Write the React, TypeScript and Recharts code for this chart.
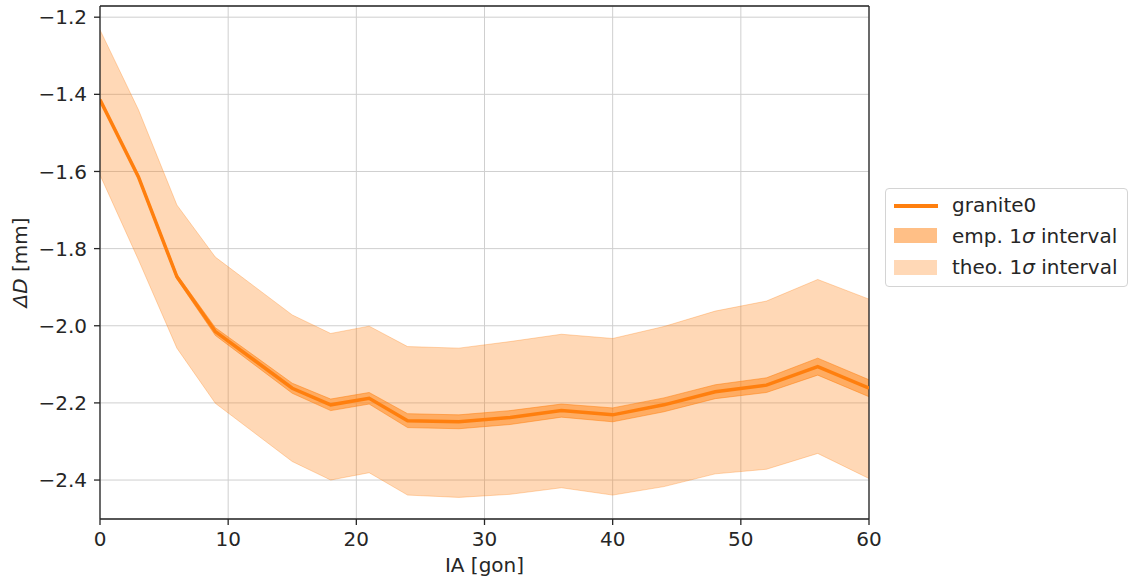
import {
  ComposedChart, Area, Line, XAxis, YAxis, CartesianGrid, ReferenceLine,
} from 'recharts'

// incidence angle [gon]
const ia = [0, 3, 6, 9, 15, 18, 21, 24, 28, 32, 36, 40, 44, 48, 52, 56, 60]

// granite0 mean ΔD [mm]
const mean = [-1.414, -1.614, -1.873, -2.015, -2.162, -2.205, -2.188, -2.246, -2.249, -2.238, -2.220, -2.231, -2.205, -2.171, -2.154, -2.106, -2.162]

// empirical 1σ band
const empHigh = [-1.410, -1.609, -1.867, -2.005, -2.149, -2.190, -2.173, -2.228, -2.231, -2.220, -2.203, -2.213, -2.187, -2.153, -2.135, -2.084, -2.140]
const empLow = [-1.418, -1.619, -1.879, -2.025, -2.175, -2.220, -2.203, -2.264, -2.267, -2.256, -2.237, -2.249, -2.223, -2.189, -2.173, -2.128, -2.184]

// theoretical 1σ band
const theoHigh = [-1.233, -1.440, -1.687, -1.822, -1.972, -2.020, -2.001, -2.054, -2.058, -2.041, -2.022, -2.033, -2.002, -1.962, -1.936, -1.880, -1.931]
const theoLow = [-1.609, -1.829, -2.058, -2.201, -2.352, -2.400, -2.381, -2.439, -2.445, -2.437, -2.420, -2.439, -2.417, -2.384, -2.372, -2.331, -2.396]

const xTicks = [0, 10, 20, 30, 40, 50, 60]
const yTicks = [-2.4, -2.2, -2.0, -1.8, -1.6, -1.4, -1.2]

const ORANGE = '#ff7f0e'
const FONT = '"DejaVu Sans", sans-serif'
const Y_MIN = -2.501
const Y_MAX = -1.171

const data = ia.map((x, i) => ({
  ia: x,
  mean: mean[i],
  emp: [empLow[i], empHigh[i]],
  theo: [theoLow[i], theoHigh[i]],
}))

const fmt = (v: number) => v.toFixed(1).replace('-', '\u2212')

export default function App() {
  const tickStyle = { fontSize: 20, fill: '#262626', fontFamily: FONT }
  const axisLine = { stroke: '#262626', strokeWidth: 1.3 }

  return (
    <div style={{ position: 'absolute', left: 0, top: 0, width: 1130, height: 583, background: '#fff' }}>
      <ComposedChart
        width={1130}
        height={583}
        data={data}
        margin={{ top: 6, right: 261, bottom: 0, left: 0 }}
      >
        <CartesianGrid stroke="#cfcfcf" strokeWidth={1} />
        <XAxis
          dataKey="ia"
          type="number"
          domain={[0, 60]}
          ticks={xTicks}
          allowDataOverflow
          height={64}
          tickSize={6}
          tickMargin={7}
          tick={tickStyle}
          axisLine={axisLine}
          tickLine={axisLine}
          label={{
            content: ({ viewBox }: any) => (
              <text
                x={viewBox.x + viewBox.width / 2}
                y={viewBox.y + 53}
                textAnchor="middle"
                fontSize={20}
                fontFamily={FONT}
                fill="#262626"
              >
                IA [gon]
              </text>
            ),
          }}
        />
        <YAxis
          type="number"
          domain={[Y_MIN, Y_MAX]}
          ticks={yTicks}
          allowDataOverflow
          width={100}
          tickSize={6}
          tickMargin={7}
          tick={tickStyle}
          tickFormatter={fmt}
          axisLine={axisLine}
          tickLine={axisLine}
          label={{
            content: ({ viewBox }: any) => {
              const cx = 27
              const cy = viewBox.y + viewBox.height / 2
              return (
                <text
                  x={cx}
                  y={cy}
                  transform={`rotate(-90, ${cx}, ${cy})`}
                  textAnchor="middle"
                  fontSize={20}
                  fontFamily={FONT}
                  fill="#262626"
                >
                  <tspan fontStyle="italic">ΔD</tspan> [mm]
                </text>
              )
            },
          }}
        />
        <ReferenceLine y={Y_MAX} stroke="#262626" strokeWidth={1.3} ifOverflow="visible" />
        <ReferenceLine x={60} stroke="#262626" strokeWidth={1.3} ifOverflow="visible" />
        <Area
          dataKey="theo"
          type="linear"
          fill={ORANGE}
          fillOpacity={0.3}
          stroke={ORANGE}
          strokeOpacity={0.3}
          strokeWidth={1}
          isAnimationActive={false}
          activeDot={false}
        />
        <Area
          dataKey="emp"
          type="linear"
          fill={ORANGE}
          fillOpacity={0.5}
          stroke={ORANGE}
          strokeOpacity={0.5}
          strokeWidth={1}
          isAnimationActive={false}
          activeDot={false}
        />
        <Line
          dataKey="mean"
          type="linear"
          stroke={ORANGE}
          strokeWidth={3.5}
          dot={false}
          activeDot={false}
          isAnimationActive={false}
        />
      </ComposedChart>

      <div
        style={{
          position: 'absolute',
          left: 885,
          top: 188,
          width: 241,
          height: 97,
          border: '1px solid #d4d4d4',
          borderRadius: 4,
          background: '#fff',
          fontFamily: FONT,
          fontSize: 20,
          color: '#262626',
        }}
      >
        <div style={{ position: 'absolute', left: 8, top: 15, width: 44, height: 3.5, background: ORANGE }} />
        <div style={{ position: 'absolute', left: 66, top: 2, lineHeight: '28px', whiteSpace: 'nowrap' }}>granite0</div>

        <div style={{ position: 'absolute', left: 8, top: 39, width: 43, height: 15, background: ORANGE, opacity: 0.5 }} />
        <div style={{ position: 'absolute', left: 66, top: 33, lineHeight: '28px', whiteSpace: 'nowrap' }}>
          emp. 1<i>σ</i> interval
        </div>

        <div style={{ position: 'absolute', left: 8, top: 71, width: 43, height: 15, background: ORANGE, opacity: 0.3 }} />
        <div style={{ position: 'absolute', left: 66, top: 64, lineHeight: '28px', whiteSpace: 'nowrap' }}>
          theo. 1<i>σ</i> interval
        </div>
      </div>
    </div>
  )
}
